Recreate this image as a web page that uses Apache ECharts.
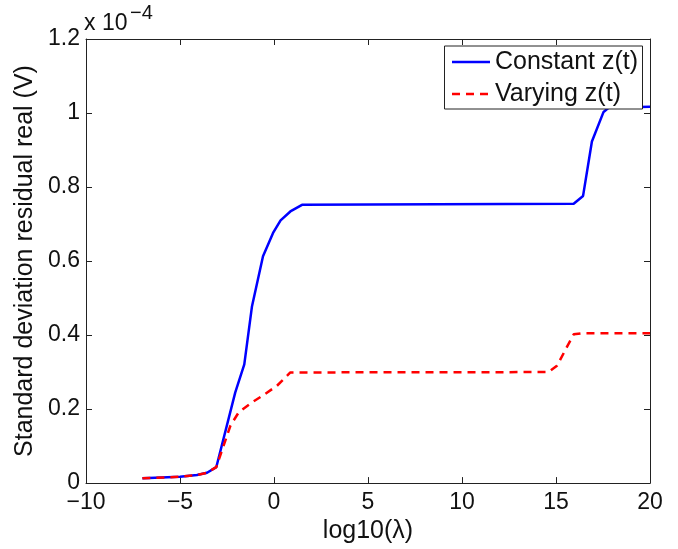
<!DOCTYPE html>
<html>
<head>
<meta charset="utf-8">
<script src="https://cdn.jsdelivr.net/npm/echarts@6/dist/echarts.min.js"></script>
<style>
  html, body { margin: 0; padding: 0; background: #fff; }
  #chart { width: 678px; height: 549px; }
</style>
</head>
<body>
<div id="chart"></div>
<script>
// log10(lambda) sample positions and residual std (units of 1e-4 V)
const constX = [-7, -5, -4.1, -3.56, -3.07, -2.06, -1.58, -1.17, -0.585, -0.05, 0.35, 0.87, 1.49, 15.94, 16.44, 16.91, 17.53, 17.8, 20];
const constY = [0.013, 0.017, 0.022, 0.028, 0.043, 0.245, 0.321, 0.478, 0.613, 0.676, 0.71, 0.734, 0.752, 0.755, 0.776, 0.923, 1.003, 1.014, 1.017];

const varyX = [-7, -5, -4.1, -3.56, -3.07, -2.32, -1.88, -1.17, -0.5, 0.16, 0.87, 14.6, 15.05, 15.94, 16.38, 20];
const varyY = [0.013, 0.017, 0.022, 0.028, 0.043, 0.155, 0.191, 0.218, 0.24, 0.263, 0.299, 0.3, 0.317, 0.402, 0.405, 0.405];

const seriesNames = ['Constant z(t)', 'Varying z(t)'];
const seriesColors = ['#0000ff', '#ff0000'];
const xTicks = { min: -10, max: 20, step: 5 };
const yTicks = { min: 0, max: 1.2, step: 0.2 };

const pair = (xs, ys) => xs.map((x, i) => [x, ys[i]]);

const FONT = 'Liberation Sans, Arial, sans-serif';
const AX = '#222';
const TXT = '#111';
const DASH = [8, 6];

const chart = echarts.init(document.getElementById('chart'), null, { renderer: 'canvas' });

const frameAxis = {
  axisLine: { show: true, onZero: false, lineStyle: { color: AX, width: 1 } },
  axisTick: { show: true, inside: true, length: 6, lineStyle: { color: AX } },
  splitLine: { show: false }
};

// boxed legend: frame, sample strokes and labels
const LEG = { x: 444.5, y: 46, w: 198, h: 63, lineX0: 452, lineX1: 490, textX: 495, rows: [62, 94] };
const legendGraphics = [
  { type: 'rect', shape: { x: LEG.x, y: LEG.y, width: LEG.w, height: LEG.h },
    style: { fill: '#fff', stroke: AX, lineWidth: 1 }, z: 100 }
];
seriesNames.forEach((name, i) => {
  legendGraphics.push({
    type: 'line', z: 101,
    shape: { x1: LEG.lineX0, y1: LEG.rows[i], x2: LEG.lineX1, y2: LEG.rows[i] },
    style: { stroke: seriesColors[i], lineWidth: 2.5, lineDash: i === 1 ? DASH : null }
  });
  legendGraphics.push({
    type: 'text', z: 101, x: LEG.textX, y: LEG.rows[i],
    style: { text: name, font: '25px ' + FONT, fill: TXT, verticalAlign: 'middle', align: 'left' }
  });
});

chart.setOption({
  animation: false,
  backgroundColor: '#fff',
  grid: { left: 86, right: 28, top: 39, bottom: 65, containLabel: false },
  xAxis: [
    Object.assign({
      type: 'value', position: 'bottom',
      min: xTicks.min, max: xTicks.max, interval: xTicks.step,
      name: 'log10(λ)', nameLocation: 'middle', nameGap: 30,
      nameTextStyle: { fontFamily: FONT, fontSize: 25, color: TXT },
      axisLabel: { fontFamily: FONT, fontSize: 23, color: TXT, margin: 8,
        formatter: v => (v < 0 ? '\u2212' + Math.abs(v) : String(v)) }
    }, frameAxis),
    Object.assign({
      type: 'value', position: 'top',
      min: xTicks.min, max: xTicks.max, interval: xTicks.step,
      axisLabel: { show: false }
    }, frameAxis)
  ],
  yAxis: [
    Object.assign({
      type: 'value', position: 'left',
      min: yTicks.min, max: yTicks.max, interval: yTicks.step,
      name: 'Standard deviation residual real (V)', nameLocation: 'middle', nameGap: 48,
      nameTextStyle: { fontFamily: FONT, fontSize: 25, color: TXT },
      axisLabel: { fontFamily: FONT, fontSize: 23, color: TXT, margin: 6,
        formatter: v => String(parseFloat(v.toFixed(1))) }
    }, frameAxis),
    Object.assign({
      type: 'value', position: 'right',
      min: yTicks.min, max: yTicks.max, interval: yTicks.step,
      axisLabel: { show: false }
    }, frameAxis)
  ],
  graphic: [
    { type: 'text', left: 84, top: 12,
      style: { text: 'x 10', font: '23px ' + FONT, fill: TXT } },
    { type: 'text', left: 130, top: 3,
      style: { text: '\u22124', font: '20px ' + FONT, fill: TXT } }
  ].concat(legendGraphics),
  series: [
    { name: seriesNames[0], type: 'line', data: pair(constX, constY),
      symbol: 'none', smooth: false,
      lineStyle: { color: seriesColors[0], width: 2.5 }, z: 3 },
    { name: seriesNames[1], type: 'line', data: pair(varyX, varyY),
      symbol: 'none', smooth: false,
      lineStyle: { color: seriesColors[1], width: 2.5, type: DASH }, z: 4 }
  ]
});
</script>
</body>
</html>
